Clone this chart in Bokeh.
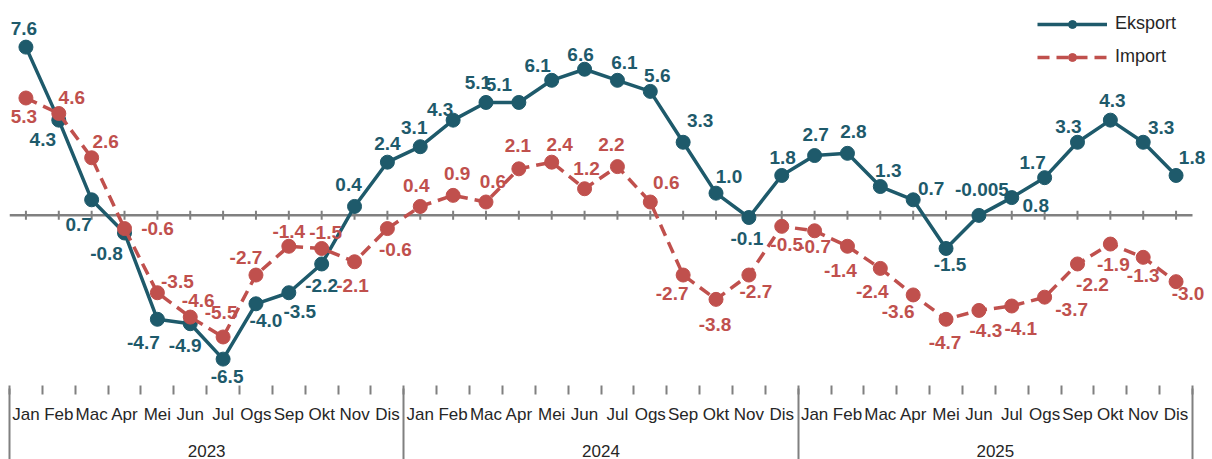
from bokeh.plotting import figure
from bokeh.models import (ColumnDataSource, LabelSet, LinearAxis, FixedTicker, Range1d,
                          Legend, LegendItem)
from bokeh.embed import file_html
from bokeh.resources import INLINE
from bokeh.core.properties import value
import math

# ---------------- data ----------------
months = ["Jan", "Feb", "Mac", "Apr", "Mei", "Jun", "Jul", "Ogs", "Sep", "Okt", "Nov", "Dis"]
years = ["2023", "2024", "2025"]

eksport = [7.6, 4.3, 0.7, -0.8, -4.7, -4.9, -6.5, -4.0, -3.5, -2.2, 0.4, 2.4,
           3.1, 4.3, 5.1, 5.1, 6.1, 6.6, 6.1, 5.6, 3.3, 1.0, -0.1, 1.8,
           2.7, 2.8, 1.3, 0.7, -1.5, -0.005, 0.8, 1.7, 3.3, 4.3, 3.3, 1.8]
import_ = [5.3, 4.6, 2.6, -0.6, -3.5, -4.6, -5.5, -2.7, -1.4, -1.5, -2.1, -0.6,
           0.4, 0.9, 0.6, 2.1, 2.4, 1.2, 2.2, 0.6, -2.7, -3.8, -2.7, -0.5,
           -0.7, -1.4, -2.4, -3.6, -4.7, -4.3, -4.1, -3.7, -2.2, -1.3, -1.9, -3.0]

eksport_labels = ["7.6", "4.3", "0.7", "-0.8", "-4.7", "-4.9", "-6.5", "-4.0", "-3.5", "-2.2", "0.4", "2.4",
                  "3.1", "4.3", "5.1", "5.1", "6.1", "6.6", "6.1", "5.6", "3.3", "1.0", "-0.1", "1.8",
                  "2.7", "2.8", "1.3", "0.7", "-1.5", "-0.005", "0.8", "1.7", "3.3", "4.3", "3.3", "1.8"]
import_labels = ["5.3", "4.6", "2.6", "-0.6", "-3.5", "-4.6", "-5.5", "-2.7", "-1.4", "-1.5", "-2.1", "-0.6",
                 "0.4", "0.9", "0.6", "2.1", "2.4", "1.2", "2.2", "0.6", "-2.7", "-3.8", "-2.7", "-0.5",
                 "-0.7", "-1.4", "-2.4", "-3.6", "-4.7", "-4.3", "-4.1", "-3.7", "-2.2", "-1.9", "-1.3", "-3.0"]

# ---------------- label placement (pixels, dx right / dy down) ----------------
eks_dx = [-2, -16, -13, -18, -14, -5, 4, 10, 11, 0, -6, 0,
          -6, -13, -8, -20, -14, -4, 7, 7, 17, 13, -2, 1,
          1, 6, 8, 18, 4, 3, 24, -12, -9, 2, 18, 16]
eks_dy = [-19, 19, 25, 21, 23, 22, 17, 17, 19, 22, -22, -19,
          -19, -11, -20, -18, -15, -15, -18, -16, -22, -17, 21, -18,
          -21, -22, -16, -11, 16, -26, 8, -15, -16, -20, -15, -18]
imp_dx = [-2, 13, 14, 33, 20, 8, -2, -10, 0, 4, -2, 8,
          -4, 4, 7, -1, 8, 2, -6, 16, -11, -1, 7, 5,
          0, -7, -8, -15, -1, 7, 9, 27, 15, 3, 0, 12]
imp_dy = [18, -16, -16, 0, -11, -17, -24, -18, -15, -16, 24, 21,
          -21, -22, -21, -23, -18, -20, -22, -20, 18, 25, 16, 18,
          16, 24, 23, 17, 23, 20, 22, 12, 21, 20, 18, 12]

EKS_COLOR = "#1E5A6B"
IMP_COLOR = "#C0504D"
GREY = "#808080"
TEXT = "#262626"
FONT = "Liberation Sans"

n = len(eksport)
xs = list(range(n))
src = ColumnDataSource(dict(
    x=xs, eks=eksport, imp=import_,
    eks_lab=eksport_labels, imp_lab=import_labels,
    eks_xo=eks_dx, eks_yo=[-d for d in eks_dy],
    imp_xo=imp_dx, imp_yo=[-d for d in imp_dy],
    zero=[0] * n,
))

FRAME_H = 380          # px
DATA_W = 1183          # px covered by the 36 months
RIGHT_PAD = 20         # px of frame right of the last month
scale = 21.84          # px per percentage point
zero_px = 212          # zero line, px from frame top
px_per_month = DATA_W / n
x_end = n - 0.5 + RIGHT_PAD / px_per_month

p = figure(width=1212, height=459, output_backend="svg", toolbar_location=None,
           x_range=Range1d(-0.5, x_end),
           y_range=Range1d(-(FRAME_H - zero_px) / scale, zero_px / scale),
           x_axis_location=None, y_axis_location=None,
           min_border_left=9, min_border_right=0, min_border_top=0, min_border_bottom=4)
p.grid.visible = False
p.outline_line_color = None
p.background_fill_color = "white"
p.border_fill_color = "white"

# zero line with month ticks
p.segment(x0=[-0.5], y0=[0], x1=[n - 0.5], y1=[0], line_color=GREY, line_width=2.5)
p.scatter("x", "zero", source=src, marker="dash", angle=math.pi / 2, size=9,
          line_color=GREY, line_width=2)

# series
r_eks_l = p.line("x", "eks", source=src, line_color=EKS_COLOR, line_width=3.5)
r_eks_m = p.scatter("x", "eks", source=src, size=14, fill_color=EKS_COLOR, line_color=EKS_COLOR)
r_imp_l = p.line("x", "imp", source=src, line_color=IMP_COLOR, line_width=3.5, line_dash="12 7")
r_imp_m = p.scatter("x", "imp", source=src, size=14, fill_color=IMP_COLOR, line_color=IMP_COLOR)

# data labels
for col, ycol, xo, yo, color in (("eks_lab", "eks", "eks_xo", "eks_yo", EKS_COLOR),
                                 ("imp_lab", "imp", "imp_xo", "imp_yo", IMP_COLOR)):
    p.add_layout(LabelSet(x="x", y=ycol, text=col, source=src, x_offset=xo, y_offset=yo,
                          text_align="center", text_baseline="middle",
                          text_font=value(FONT), text_font_style="bold",
                          text_font_size="19px", text_color=color))

# month axis
month_axis = LinearAxis(
    ticker=FixedTicker(ticks=xs, minor_ticks=[i - 0.5 for i in range(n + 1)]),
    major_label_overrides={i: months[i % 12] for i in xs},
    axis_line_color=None, major_tick_line_color=None, major_tick_out=0, major_tick_in=0,
    minor_tick_line_color=GREY, minor_tick_line_width=2, minor_tick_in=0, minor_tick_out=9,
    major_label_standoff=10, major_label_text_font=FONT, major_label_text_font_size="17px",
    major_label_text_color=TEXT)
p.add_layout(month_axis, "below")

# year axis
p.extra_x_ranges = {"years": Range1d(0, n + RIGHT_PAD / px_per_month)}
year_axis = LinearAxis(
    x_range_name="years",
    ticker=FixedTicker(ticks=[6 + 12 * k for k in range(len(years))],
                       minor_ticks=[12 * k for k in range(len(years) + 1)]),
    major_label_overrides={6 + 12 * k: y for k, y in enumerate(years)},
    axis_line_color=None, major_tick_line_color=None, major_tick_out=0, major_tick_in=0,
    minor_tick_line_color=GREY, minor_tick_line_width=2, minor_tick_in=38, minor_tick_out=41,
    major_label_standoff=-23, major_label_text_font=FONT, major_label_text_font_size="17px",
    major_label_text_color=TEXT)
p.add_layout(year_axis, "below")

legend = Legend(items=[LegendItem(label="Eksport", renderers=[r_eks_l, r_eks_m]),
                       LegendItem(label="Import", renderers=[r_imp_l, r_imp_m])],
                location=(1028, 318), orientation="vertical",
                glyph_width=70, glyph_height=20, label_standoff=8, spacing=12,
                padding=0, margin=0, border_line_color=None, background_fill_alpha=0,
                label_text_font=FONT, label_text_font_size="18px", label_text_color=TEXT)
p.add_layout(legend)

open("out.html", "w").write(file_html(p, INLINE))
